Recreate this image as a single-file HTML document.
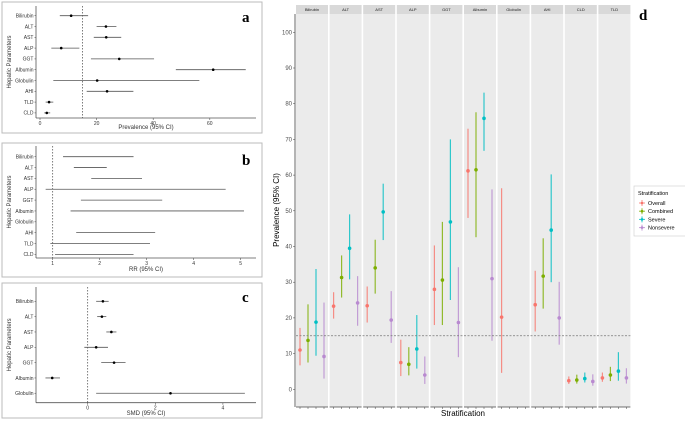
<!DOCTYPE html>
<html><head><meta charset="utf-8"><style>
body{margin:0;background:#fff;width:685px;height:421px;overflow:hidden}
svg{display:block;font-family:"Liberation Sans",sans-serif}
</style></head><body>
<svg id="s" width="685" height="421" xmlns="http://www.w3.org/2000/svg"></svg>
<script>
const NS="http://www.w3.org/2000/svg";
const svg=document.getElementById('s');
// ---- data ----
const params=["Bilirubin","ALT","AST","ALP","GGT","Albumin","Globulin","AHI","TLD","CLD"];
const prevVal=[11,23.3,23.4,7.5,28,61.2,20.2,23.7,3.2,2.4];
const prevLo=[7,20,19,4,18,48,4.7,16.5,2,1.5];
const prevHi=[17,27,28.7,13.9,40.3,72.7,56.3,33,4.7,3.6];
const prevTicks=[0,20,40,60];
const rrLo=[1.22,1.45,1.82,0.85,1.6,1.38,null,1.5,0.95,1.05];
const rrHi=[2.72,2.15,2.9,4.68,3.33,5.07,null,3.18,3.07,2.72];
const rrTicks=[1,2,3,4,5];
const smdParams=["Bilirubin","ALT","AST","ALP","GGT","Albumin","Globulin"];
const smdVal=[0.45,0.42,0.7,0.25,0.78,-1.05,2.45];
const smdLo=[0.25,0.28,0.55,-0.1,0.4,-1.25,0.25];
const smdHi=[0.62,0.55,0.85,0.6,1.12,-0.82,4.65];
const smdTicks=[0,2,4];
const facets=["Bilirubin","ALT","AST","ALP","GGT","Albumin","Globulin","AHI","CLD","TLD"];
const groups=["Overall","Combined","Severe","Nonsevere"];
const colors=["#F8766D","#7CAE00","#00BFC4","#B98AD0"];
const dOverall=[11,23.3,23.4,7.5,28,61.2,20.2,23.7,2.4,3.2];
const dOverallLo=[6.7,19.8,18.7,3.7,18,48,4.6,16.2,1.5,2.1];
const dOverallHi=[17.2,27.2,28.8,13.9,40.3,73,56.3,33.2,3.6,4.7];
const dComb=[13.7,31.3,34,7,30.6,61.5,null,31.7,2.6,4];
const dCombLo=[7.5,25.7,26.8,3.9,18,42.6,null,22.6,1.6,2.3];
const dCombHi=[23.8,37.5,41.9,11.8,46.9,77.6,null,42.3,4.1,6.3];
const dSev=[18.8,39.5,49.7,11.3,46.9,75.9,null,44.6,3,5.1];
const dSevLo=[9.4,30.8,41.8,5.8,25,66.8,null,30,1.9,2.4];
const dSevHi=[33.7,49,57.6,20.8,70,83.1,null,60.2,4.7,10.4];
const dNon=[9.2,24.2,19.4,4,18.7,31,null,20,2.2,3.2];
const dNonLo=[3,17.8,13,1.5,9,13.6,null,12.5,1,1.6];
const dNonHi=[24.3,31.7,27.5,9.2,34.2,56,null,30.1,4.2,5.9];
const dTicks=[0,10,20,30,40,50,60,70,80,90,100];

function el(tag,attrs,parent,name,inter){const e=document.createElementNS(NS,tag);for(const k in attrs)e.setAttribute(k,attrs[k]);


(parent||svg).appendChild(e);return e;}
function txt(x,y,s,size,anchor,parent,name,extra){const t=el('text',Object.assign({x:x,y:y,'font-size':size,'text-anchor':anchor||'start',fill:'#333'},extra||{}),parent,name,false);t.textContent=s;return t;}

function forest(cfg){
  const g=el('g',{},svg,cfg.name,false);
  el('rect',{x:cfg.box[0],y:cfg.box[1],width:cfg.box[2],height:cfg.box[3],fill:'#fff',stroke:'#bbb','stroke-width':1},g,'panel-border',false);
  const sx=v=>cfg.x0+(v-cfg.v0)*cfg.k;
  const sy=i=>cfg.y0+i*cfg.step;
  const bottom=cfg.axisY;
  el('line',{x1:cfg.axL,y1:cfg.ptop,x2:cfg.axL,y2:bottom,stroke:'#555','stroke-width':0.8},g,'y-axis',false);
  el('line',{x1:cfg.axL,y1:bottom,x2:cfg.axR,y2:bottom,stroke:'#555','stroke-width':0.8},g,'x-axis',false);
  el('line',{x1:sx(cfg.ref),y1:cfg.ptop,x2:sx(cfg.ref),y2:bottom,stroke:'#444','stroke-width':0.7,'stroke-dasharray':'1.5,1.5'},g,'reference-line',false);
  cfg.ticks.forEach(t=>{el('line',{x1:sx(t),y1:bottom,x2:sx(t),y2:bottom+2,stroke:'#555','stroke-width':0.6},g,'x-tick',false);
    txt(sx(t),bottom+7,String(t),5,'middle',g,'x-tick-label');});
  cfg.labels.forEach((l,i)=>{txt(cfg.axL-2.5,sy(i)+1.8,l,5,'end',g,'y-tick-label');
    el('line',{x1:cfg.axL-1.5,y1:sy(i),x2:cfg.axL,y2:sy(i),stroke:'#555','stroke-width':0.6},g,'y-tick',false);
    if(cfg.lo[i]==null)return;
    el('line',{x1:sx(cfg.lo[i]),y1:sy(i),x2:sx(cfg.hi[i]),y2:sy(i),stroke:'#555','stroke-width':0.8},g,'ci-line',false);
    if(cfg.val) el('circle',{cx:sx(cfg.val[i]),cy:sy(i),r:1.3,fill:'#000'},g,'point-estimate',false);
  });
  txt((cfg.axL+cfg.axR)/2,cfg.titleY,cfg.xtitle,6,'middle',g,'x-axis-title');
  const yt=txt(0,0,'Hepatic Parameters',6,'middle',g,'y-axis-title');
  yt.setAttribute('transform',`translate(${cfg.box[0]+9},${(cfg.ptop+bottom)/2}) rotate(-90)`);
  txt(cfg.box[0]+cfg.box[2]-20,cfg.letterY,cfg.letter,15,'start',g,'panel-label',{'font-family':'Liberation Serif,serif','font-weight':'bold',fill:'#000'});
}
forest({name:'panel-a',box:[2,2,260,131],x0:40,v0:0,k:2.83,y0:15.7,step:10.8,axL:36,axR:256,ptop:6,axisY:118,ref:15,ticks:prevTicks,labels:params,lo:prevLo,hi:prevHi,val:prevVal,xtitle:'Prevalence (95% CI)',titleY:129,letter:'a',letterY:22});
forest({name:'panel-b',box:[2,143,260,134],x0:52.7,v0:1,k:47,y0:156.7,step:10.85,axL:36,axR:256,ptop:146,axisY:258,ref:1,ticks:rrTicks,labels:params,lo:rrLo,hi:rrHi,val:null,xtitle:'RR (95% CI)',titleY:271,letter:'b',letterY:165});
forest({name:'panel-c',box:[2,283,260,135],x0:87.7,v0:0,k:33.8,y0:301.3,step:15.33,axL:36,axR:256,ptop:287,axisY:402.7,ref:0,ticks:smdTicks,labels:smdParams,lo:smdLo,hi:smdHi,val:smdVal,xtitle:'SMD (95% CI)',titleY:415,letter:'c',letterY:302});

// ---- panel d ----
const gd=el('g',{},svg,'panel-d',false);
const dY0=389.3,dKy=3.57;const ys=v=>dY0-v*dKy;
const fx0=296,fw=32,pitch=33.6,dTop=14,dBot=407;
const series=[[dOverall,dOverallLo,dOverallHi],[dComb,dCombLo,dCombHi],[dSev,dSevLo,dSevHi],[dNon,dNonLo,dNonHi]];
facets.forEach((f,fi)=>{
  const fx=fx0+fi*pitch;
  el('rect',{x:fx,y:dTop,width:fw,height:dBot-dTop,fill:'#EBEBEB'},gd,'facet-panel-'+f.toLowerCase(),false);
  el('rect',{x:fx,y:5,width:fw,height:9,fill:'#D9D9D9'},gd,'facet-strip',false);
  txt(fx+fw/2,11,f,4,'middle',gd,'facet-label',{fill:'#1a1a1a'});
  for(let gi=0;gi<4;gi++)el('line',{x1:fx+4+gi*8,y1:dBot,x2:fx+4+gi*8,y2:dBot+2,stroke:'#444','stroke-width':0.5},gd,'x-tick',false);
  el('line',{x1:fx,y1:dBot,x2:fx+fw,y2:dBot,stroke:'#444','stroke-width':0.8},gd,'x-axis',false);
});
facets.forEach((f,fi)=>{
  const fx=fx0+fi*pitch;
  series.forEach((s,gi)=>{
    if(s[0][fi]==null)return;
    const x=fx+4+gi*8;
    el('line',{x1:x,y1:ys(s[1][fi]),x2:x,y2:ys(s[2][fi]),stroke:colors[gi],'stroke-width':1.2,opacity:0.8},gd,'error-bar-'+groups[gi].toLowerCase(),false);
    el('circle',{cx:x,cy:ys(s[0][fi]),r:1.8,fill:colors[gi]},gd,'point-'+groups[gi].toLowerCase(),false);
  });
});
el('line',{x1:fx0,y1:ys(15),x2:fx0+9*pitch+fw,y2:ys(15),stroke:'#777','stroke-width':0.8,'stroke-dasharray':'2,1.5'},gd,'threshold-line',false);
el('line',{x1:295,y1:dTop,x2:295,y2:dBot,stroke:'#444','stroke-width':0.8},gd,'y-axis',false);
dTicks.forEach(t=>{el('line',{x1:293,y1:ys(t),x2:295,y2:ys(t),stroke:'#444','stroke-width':0.5},gd,'y-tick',false);
  txt(292,ys(t)+2,String(t),6,'end',gd,'y-tick-label',{fill:'#4d4d4d'});});
const dyt=txt(0,0,'Prevalence (95% CI)',8,'middle',gd,'y-axis-title',{fill:'#000'});
dyt.setAttribute('transform',`translate(279,210) rotate(-90)`);
txt(463,416,'Stratification',8,'middle',gd,'x-axis-title',{fill:'#000'});
txt(639,20,'d',15,'start',gd,'panel-label',{'font-family':'Liberation Serif,serif','font-weight':'bold',fill:'#000'});
const lg=el('g',{},gd,'legend',false);
el('rect',{x:634,y:186,width:52,height:50,fill:'#fff',stroke:'#ccc','stroke-width':0.6},lg,'legend-box',false);
txt(638,195,'Stratification',5.5,'start',lg,'legend-title',{fill:'#000'});
groups.forEach((gname,i)=>{const y=203+i*8.2;
  el('line',{x1:642,y1:y-3,x2:642,y2:y+3,stroke:colors[i],'stroke-width':1,opacity:0.8},lg,'legend-key',false);
  el('line',{x1:639,y1:y,x2:645,y2:y,stroke:colors[i],'stroke-width':1,opacity:0.8},lg,'legend-key',false);
  el('circle',{cx:642,cy:y,r:1.3,fill:colors[i]},lg,'legend-key',false);
  txt(648,y+2,gname,5.5,'start',lg,'legend-entry-'+gname.toLowerCase(),{fill:'#000'});});
</script>
</body></html>
